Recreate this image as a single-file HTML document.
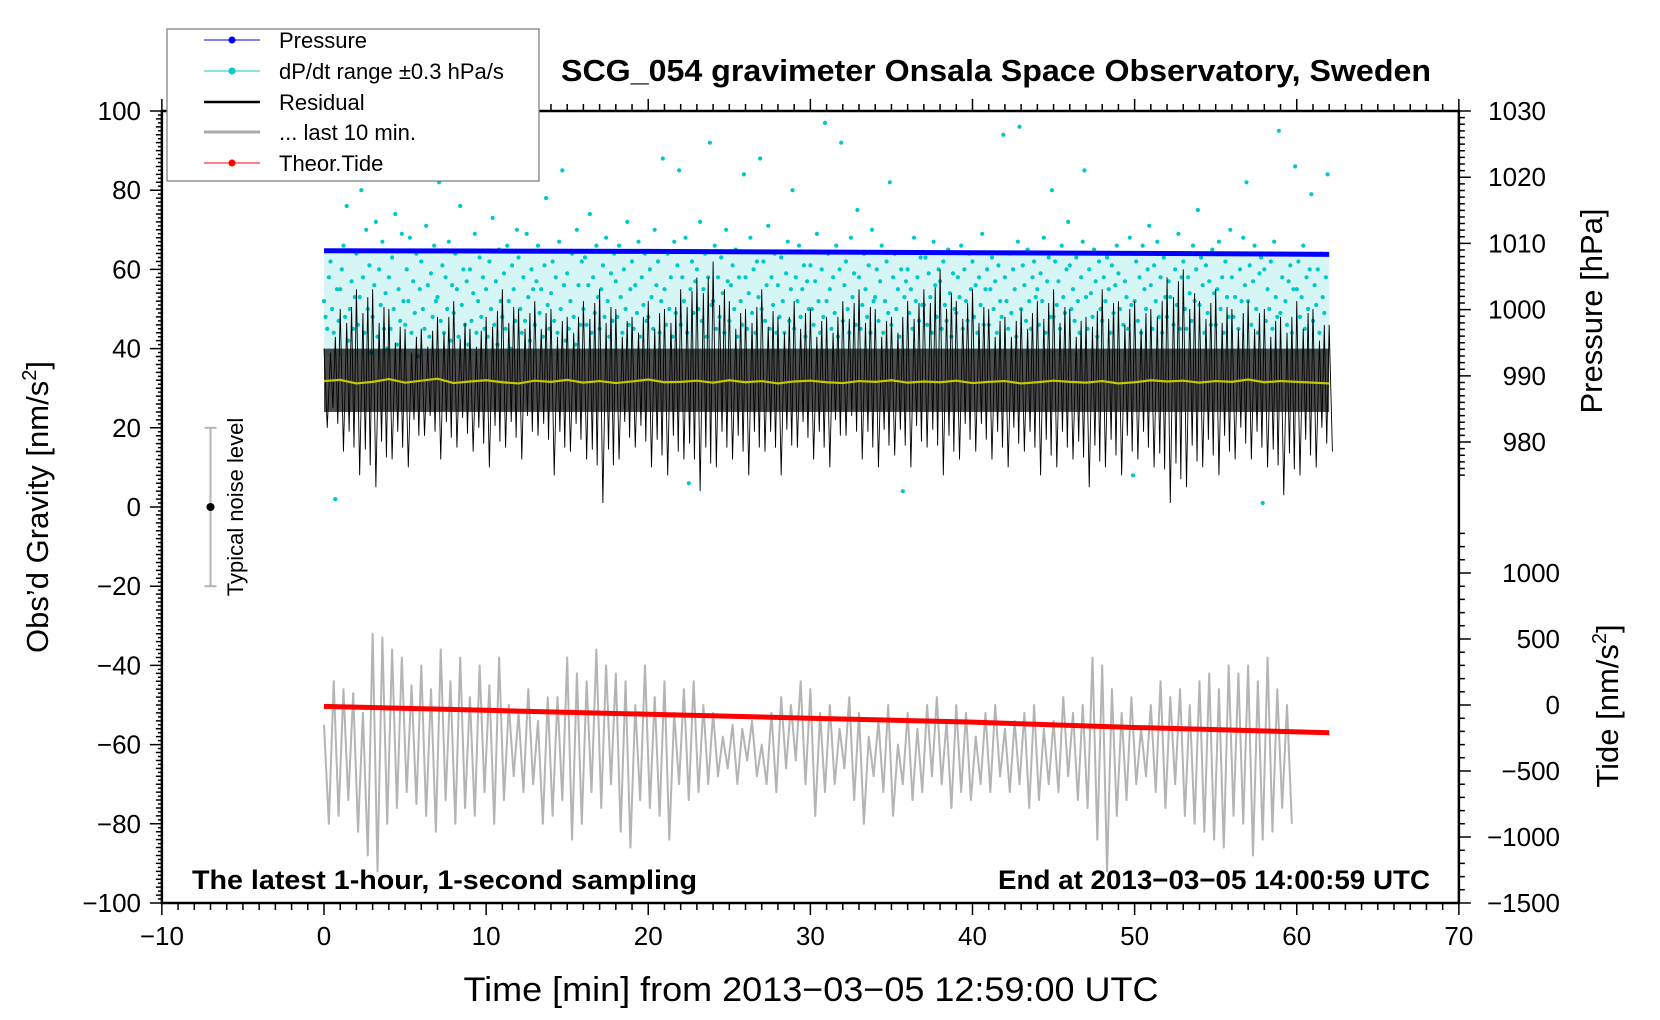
<!DOCTYPE html>
<html><head><meta charset="utf-8"><title>SCG_054 gravimeter</title>
<style>
html,body{margin:0;padding:0;background:#fff;}
svg{display:block;font-family:"Liberation Sans Narrow","Liberation Sans",sans-serif;}
.w{font-family:"Liberation Sans",sans-serif;}
</style></head>
<body>
<svg id="chart" xmlns="http://www.w3.org/2000/svg" width="1660" height="1020" viewBox="0 0 1660 1020">
<rect x="0" y="0" width="1660" height="1020" fill="#fff"/>
<g id="plot"></g>
<g id="axes"></g>
<text x="996" y="81" text-anchor="middle" font-size="31" font-weight="bold" textLength="870" lengthAdjust="spacingAndGlyphs">SCG_054 gravimeter Onsala Space Observatory, Sweden</text>
<text class="w" transform="translate(48,507) rotate(-90)" text-anchor="middle" font-size="31">Obs’d Gravity [nm/s<tspan dy="-12" font-size="20">2</tspan><tspan dy="12">]</tspan></text>
<text class="w" transform="translate(1602,311) rotate(-90)" text-anchor="middle" font-size="31">Pressure [hPa]</text>
<text class="w" transform="translate(1618,706) rotate(-90)" text-anchor="middle" font-size="31">Tide [nm/s<tspan dy="-12" font-size="20">2</tspan><tspan dy="12">]</tspan></text>
<text x="811" y="1001" text-anchor="middle" font-size="34" textLength="695" lengthAdjust="spacingAndGlyphs">Time [min] from 2013−03−05 12:59:00 UTC</text>
<text x="192" y="889" font-size="27" font-weight="bold" textLength="505" lengthAdjust="spacingAndGlyphs">The latest 1-hour, 1-second sampling</text>
<text x="1430" y="889" text-anchor="end" font-size="27" font-weight="bold" textLength="432" lengthAdjust="spacingAndGlyphs">End at 2013−03−05 14:00:59 UTC</text>
<g>
<rect x="167" y="29" width="372" height="152" fill="#fff" stroke="#777" stroke-width="1.2"/>
<g><line x1="204" y1="40" x2="260" y2="40" stroke="#00f" stroke-width="1"/><circle cx="232" cy="40" r="3.5" fill="#00f"/><text x="279" y="48" font-size="22">Pressure</text></g>
<g><line x1="204" y1="71" x2="260" y2="71" stroke="#0cc" stroke-width="1"/><circle cx="232" cy="71" r="3.5" fill="#0cc"/><text x="279" y="79" font-size="22">dP/dt range ±0.3 hPa/s</text></g>
<g><line x1="204" y1="102" x2="260" y2="102" stroke="#000" stroke-width="2.5"/><text x="279" y="110" font-size="22">Residual</text></g>
<g><line x1="204" y1="132" x2="260" y2="132" stroke="#aaa" stroke-width="3"/><text x="279" y="140" font-size="22">... last 10 min.</text></g>
<g><line x1="204" y1="163" x2="260" y2="163" stroke="#f00" stroke-width="1"/><circle cx="232" cy="163" r="3.5" fill="#f00"/><text x="279" y="171" font-size="22">Theor.Tide</text></g>
</g>
</svg>
<script>
// ---- data ----
const xTicks = [-10,0,10,20,30,40,50,60,70];
const gTicks = [100,80,60,40,20,0,-20,-40,-60,-80,-100];
const pTicks = [1030,1020,1010,1000,990,980];
const tideTicks = [1000,500,0,-500,-1000,-1500];
const pressureT = [0,10,20,30,40,50,62];
const pressureV = [1008.9,1008.85,1008.8,1008.7,1008.6,1008.5,1008.35];
const tideT = [0,10,20,30,40,50,62];
const tideV = [-10,-40,-70,-100,-130,-170,-210];
const resHi = [40,50,55,55,50,45,45,48,52,45,48,55,50,52,50,48,52,55,50,48,52,50,55,58,62,52,50,55,48,52,50,48,52,55,50,48,52,55,60,52,55,50,48,50,52,55,50,48,55,52,52,50,58,60,52,55,50,52,50,48,52,50,46];
const resLo = [20,14,8,5,12,10,18,12,15,14,10,15,12,18,8,14,12,1,12,15,10,8,12,4,10,12,8,14,8,15,12,10,18,12,10,13,10,15,8,12,14,12,10,14,8,10,12,5,10,8,12,10,1,5,10,8,12,12,10,3,8,10,14];
const meanV = [31.8,32.1,31.2,31.6,32.3,31.4,31.9,32.4,31.3,31.7,32.0,31.5,31.2,31.9,31.6,32.1,31.4,31.8,31.3,31.7,32.2,31.5,31.6,31.9,31.4,32.0,31.5,31.8,31.2,31.7,31.9,31.5,31.3,31.8,31.6,32.0,31.4,31.7,31.5,31.9,31.3,31.6,31.8,31.2,31.5,31.9,31.6,31.4,31.8,31.2,31.5,32.0,31.7,31.9,31.4,31.8,31.6,32.2,31.5,31.8,31.6,31.4,31.2];
const grayPeaks = [-55,-44,-46,-47,-52,-32,-33,-36,-38,-45,-40,-46,-36,-44,-38,-48,-40,-45,-38,-50,-52,-46,-54,-48,-48,-38,-42,-44,-36,-40,-42,-44,-50,-40,-48,-44,-52,-46,-44,-50,-52,-58,-55,-56,-54,-60,-52,-48,-50,-44,-46,-52,-50,-56,-48,-52,-58,-54,-50,-60,-52,-56,-50,-48,-54,-50,-52,-58,-52,-50,-56,-54,-52,-50,-56,-54,-48,-52,-50,-38,-40,-46,-52,-48,-56,-50,-44,-48,-46,-50,-44,-42,-46,-40,-42,-40,-44,-38,-46,-50];
const grayTroughs = [-80,-78,-74,-82,-88,-92,-80,-76,-72,-75,-78,-82,-74,-80,-76,-78,-72,-80,-74,-68,-72,-70,-80,-78,-74,-84,-80,-72,-76,-70,-82,-86,-74,-76,-78,-84,-70,-74,-72,-70,-68,-66,-70,-64,-68,-70,-72,-66,-64,-70,-78,-72,-70,-66,-74,-80,-68,-72,-78,-70,-74,-72,-68,-70,-76,-72,-74,-70,-72,-68,-72,-70,-76,-74,-70,-72,-68,-74,-76,-84,-92,-78,-74,-70,-68,-72,-76,-70,-78,-80,-82,-84,-86,-78,-80,-88,-84,-82,-76,-80];
const cyanV = [
[52,48,45,58,62,50,44,2,55,47],[55,60,66,48,76,42,50,57,45,53],[64,46,53,80,58,44,70,50,61,39],[48,56,72,43,60,51,67,45,54,40],
[58,45,63,50,74,41,55,47,69,52],[46,60,52,68,44,57,49,64,38,55],[62,50,45,71,56,43,59,48,66,52],[53,82,47,61,44,58,50,67,42,56],
[49,64,55,43,76,51,60,46,57,41],[60,47,54,69,44,52,63,48,58,45],[55,43,62,50,73,46,57,41,65,52],[48,59,45,66,52,40,61,55,47,70],
[63,50,44,58,47,69,53,42,60,55],[46,57,66,49,55,43,61,78,51,45],[54,62,47,58,44,67,50,85,56,42],[59,45,52,64,48,41,70,56,46,62],
[50,63,46,56,74,44,58,49,66,53],[45,55,61,48,68,52,43,59,47,64],[57,48,66,53,44,60,50,72,46,55],[62,45,56,49,67,43,58,51,64,47],
[48,60,53,45,70,56,62,44,52,88],[55,46,64,50,58,43,67,49,61,85],[46,58,52,68,44,6,55,62,49,57],[60,50,72,47,55,64,43,58,92,51],
[52,66,45,58,48,63,54,44,70,57],[47,56,61,50,65,43,58,52,46,84],[58,45,54,68,49,60,44,62,53,88],[50,62,47,56,71,45,58,51,64,44],
[56,48,63,52,44,59,67,47,55,80],[45,58,52,66,48,55,61,43,57,50],[61,50,46,57,69,52,44,60,48,97],[52,64,55,45,58,49,66,43,60,92],
[47,56,62,50,44,68,53,59,46,75],[58,45,51,64,55,48,61,44,70,52],[53,60,47,57,66,44,52,62,49,82],[46,58,64,50,55,43,60,4,53,57],
[60,49,55,45,68,52,58,47,63,51],[51,63,46,59,53,44,67,56,48,60],[57,45,62,51,47,65,54,43,59,50],[49,58,53,66,45,60,52,47,64,55],
[62,48,56,44,58,51,69,46,55,60],[46,55,63,50,57,44,61,52,48,94],[58,52,45,64,49,60,55,43,67,96],[50,61,56,47,65,52,45,58,62,53],
[55,46,59,52,68,44,57,63,48,80],[48,62,51,57,45,66,53,49,60,72],[61,50,55,47,63,52,44,58,67,85],[53,45,60,54,48,65,57,43,62,50],
[47,58,52,63,55,44,61,49,56,66],[59,50,64,46,57,53,45,68,51,8],[52,62,47,58,44,66,55,50,60,71],[56,45,61,52,67,48,58,44,63,53],
[48,57,53,64,46,60,51,69,45,58],[62,50,45,58,54,47,66,52,60,75],[51,63,56,44,61,49,57,46,65,54],[46,55,67,50,58,44,62,53,48,70],
[58,48,53,64,45,60,52,68,56,82],[52,61,46,57,66,50,44,59,63,1],[60,47,55,50,62,45,67,53,48,95],[49,58,64,52,46,57,61,44,55,86],
[55,62,48,53,66,45,58,50,60,79],[47,56,51,60,44,64,53,49,58,84]
];
// ---- scales ----
const X = t => 324 + t * 16.2125;
const Y = g => 507 - g * 3.96;
const P2G = p => 100 - (1030 - p) * 1.672;
const T2G = v => -50 + v / 30;
const NS = 'http://www.w3.org/2000/svg';
function mk(tag, parent, attrs) { const e = document.createElementNS(NS, tag); for (const k in attrs) e.setAttribute(k, attrs[k]); parent.appendChild(e); return e; }
const plot = document.getElementById('plot');
const axes = document.getElementById('axes');

// faint cyan haze for dense dot region
const haze = mk('rect', plot, {x: X(0), y: Y(64), width: X(62) - X(0), height: Y(38) - Y(64), fill: '#00c8c8', opacity: 0.16});



// cyan dots
const cg = mk('g', plot, {fill: '#00c8c8'});


cyanV.forEach((row, i) => row.forEach((v, k) => {
  const c = mk('circle', cg, {cx: X(i + k / row.length).toFixed(1), cy: Y(v).toFixed(1), r: 2.1});
  
  
}));

// residual core band + spikes
let core = '', coreB = '';
for (let i = 0; i < resHi.length; i++) { core += `${X(i)},${Y(Math.min(resHi[i], 40))} `; }
for (let i = resLo.length - 1; i >= 0; i--) { coreB += `${X(i)},${Y(Math.max(resLo[i], 24))} `; }
const band = mk('polygon', plot, {points: core + coreB, fill: '#000', opacity: 0.7});


let zz = '';
for (let i = 0; i < resHi.length; i++) {
  zz += `${X(i)},${Y(resHi[i])} ${X(i + 0.2)},${Y(resLo[i])} `;
  if (i + 1 < resHi.length) {
    const mh = (resHi[i] + resHi[i + 1]) / 2, ml = (resLo[i] + resLo[i + 1]) / 2;
    zz += `${X(i + 0.4)},${Y(mh - 6)} ${X(i + 0.55)},${Y(ml + 8)} ${X(i + 0.7)},${Y(mh - 2)} ${X(i + 0.85)},${Y(ml + 4)} `;
  }
}
const res = mk('polyline', plot, {points: zz, fill: 'none', stroke: '#000', 'stroke-width': 0.9});



// yellow running mean
const ym = mk('polyline', plot, {points: meanV.map((v, i) => `${X(i)},${Y(v)}`).join(' '), fill: 'none', stroke: '#c8c800', 'stroke-width': 2.2});



// pressure
const pl = mk('polyline', plot, {points: pressureT.map((t, i) => `${X(t)},${Y(P2G(pressureV[i]))}`).join(' '), fill: 'none', stroke: '#00f', 'stroke-width': 5});



// gray last 10 min
let gp = '';
for (let k = 0; k < grayPeaks.length; k++) { gp += `${X(k * 0.6)},${Y(grayPeaks[k])} ${X(k * 0.6 + 0.3)},${Y(grayTroughs[k])} `; }
const gl = mk('polyline', plot, {points: gp, fill: 'none', stroke: '#b4b4b4', 'stroke-width': 2, 'stroke-linejoin': 'round'});



// tide
const tl = mk('polyline', plot, {points: tideT.map((t, i) => `${X(t)},${Y(T2G(tideV[i]))}`).join(' '), fill: 'none', stroke: '#f00', 'stroke-width': 5});



// noise bar
const nb = mk('g', plot, {});


mk('line', nb, {x1: X(-7), y1: Y(20), x2: X(-7), y2: Y(-20), stroke: '#b4b4b4', 'stroke-width': 2});
mk('line', nb, {x1: X(-7) - 6, y1: Y(20), x2: X(-7) + 6, y2: Y(20), stroke: '#b4b4b4', 'stroke-width': 2});
mk('line', nb, {x1: X(-7) - 6, y1: Y(-20), x2: X(-7) + 6, y2: Y(-20), stroke: '#b4b4b4', 'stroke-width': 2});
mk('circle', nb, {cx: X(-7), cy: Y(0), r: 4, fill: '#000'});
const nt = mk('text', nb, {transform: `translate(${X(-5.0)},${Y(0)}) rotate(-90)`, 'text-anchor': 'middle', 'font-size': 22, class: 'w'});
nt.textContent = 'Typical noise level';



// axes frame
const L = X(-10), R = X(70), T = Y(100), B = Y(-100);
mk('rect', axes, {x: L, y: T, width: R - L, height: B - T, fill: 'none', stroke: '#000', 'stroke-width': 2.5});
let tk = '';
for (let t = -10; t <= 70; t++) {
  const len = t % 10 === 0 ? 12 : 7;
  tk += `M${X(t)},${B}v${len}M${X(t)},${T}v${-len}`;
}
for (let g = -100; g <= 100; g++) {
  const len = g % 20 === 0 ? 12 : (g % 2 === 0 ? 6 : 4);
  tk += `M${L},${Y(g)}h${-len}`;
}
for (let p = 975; p <= 1030; p++) {
  const len = p % 10 === 0 ? 12 : 6;
  tk += `M${R},${Y(P2G(p))}h${len}`;
}
for (let v = -1500; v <= 1300; v += 100) {
  const len = v % 500 === 0 ? 12 : 6;
  tk += `M${R},${Y(T2G(v))}h${len}`;
}
mk('path', axes, {d: tk, stroke: '#000', 'stroke-width': 1.5, fill: 'none'});

xTicks.forEach(t => {
  const e = mk('text', axes, {x: X(t), y: 945, 'text-anchor': 'middle', 'font-size': 26});
  e.textContent = String(t).replace('-', '−');
  
  
});
gTicks.forEach(g => {
  const e = mk('text', axes, {x: 141, y: Y(g) + 9, 'text-anchor': 'end', 'font-size': 26});
  e.textContent = String(g).replace('-', '−');
  
  
});
pTicks.forEach(p => {
  const e = mk('text', axes, {x: 1546, y: Y(P2G(p)) + 9, 'text-anchor': 'end', 'font-size': 26});
  e.textContent = String(p);
  
  
});
tideTicks.forEach(v => {
  const e = mk('text', axes, {x: 1560, y: Y(T2G(v)) + 9, 'text-anchor': 'end', 'font-size': 26});
  e.textContent = String(v).replace('-', '−');
  
  
});
</script>
</body></html>
